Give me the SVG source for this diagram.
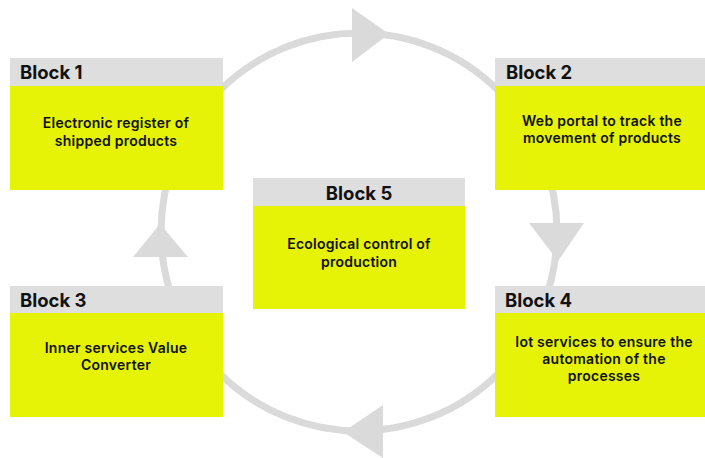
<svg xmlns="http://www.w3.org/2000/svg" width="705" height="458" viewBox="0 0 705 458">
<style>
.ring{fill:none;stroke:#dadada;stroke-width:7}
.head{fill:#dedede}
.body{fill:#e6f306}
.ht{font-family:Inter,"Open Sans",sans-serif;font-weight:700;font-size:18.5px;fill:#111}
.bt{font-family:Inter,"Open Sans",sans-serif;font-weight:600;font-size:14px;letter-spacing:0.25px;fill:#111;text-anchor:middle}
.arr{fill:#dadada}
</style>
<rect width="705" height="458" fill="#fff"/>
<g id="connectors">
<ellipse class="ring" cx="359" cy="232" rx="198" ry="199"/>
<polygon class="arr" points="352,8 352,62 389,34"/>
<polygon class="arr" points="529,223 584,223 558,261"/>
<polygon class="arr" points="383,405 383,458 343,432"/>
<polygon class="arr" points="133,257 188,257 160,224"/>
</g>
<g id="block1">
<rect class="head" x="10" y="58" width="213" height="28"/>
<rect class="body" x="10" y="86" width="213" height="104"/>
<text class="ht" x="20" y="79">Block 1</text>
<text class="bt" x="116" y="128">Electronic register of</text>
<text class="bt" x="116" y="146">shipped products</text>
</g>
<g id="block2">
<rect class="head" x="495" y="58" width="210" height="28"/>
<rect class="body" x="495" y="86" width="210" height="104"/>
<text class="ht" x="506" y="79">Block 2</text>
<text class="bt" x="602" y="126">Web portal to track the</text>
<text class="bt" x="602" y="143">movement of products</text>
</g>
<g id="block3">
<rect class="head" x="10" y="286" width="213" height="27"/>
<rect class="body" x="10" y="313" width="213" height="104"/>
<text class="ht" x="20" y="307">Block 3</text>
<text class="bt" x="116" y="353">Inner services Value</text>
<text class="bt" x="116" y="370">Converter</text>
</g>
<g id="block4">
<rect class="head" x="495" y="286" width="210" height="27"/>
<rect class="body" x="495" y="313" width="210" height="104"/>
<text class="ht" x="505" y="307">Block 4</text>
<text class="bt" x="604" y="347">Iot services to ensure the</text>
<text class="bt" x="604" y="364">automation of the</text>
<text class="bt" x="604" y="381">processes</text>
</g>
<g id="block5">
<rect class="head" x="253" y="178" width="212" height="28"/>
<rect class="body" x="253" y="206" width="212" height="103"/>
<text class="ht" x="359" y="200" text-anchor="middle">Block 5</text>
<text class="bt" x="359" y="249">Ecological control of</text>
<text class="bt" x="359" y="267">production</text>
</g>
</svg>
